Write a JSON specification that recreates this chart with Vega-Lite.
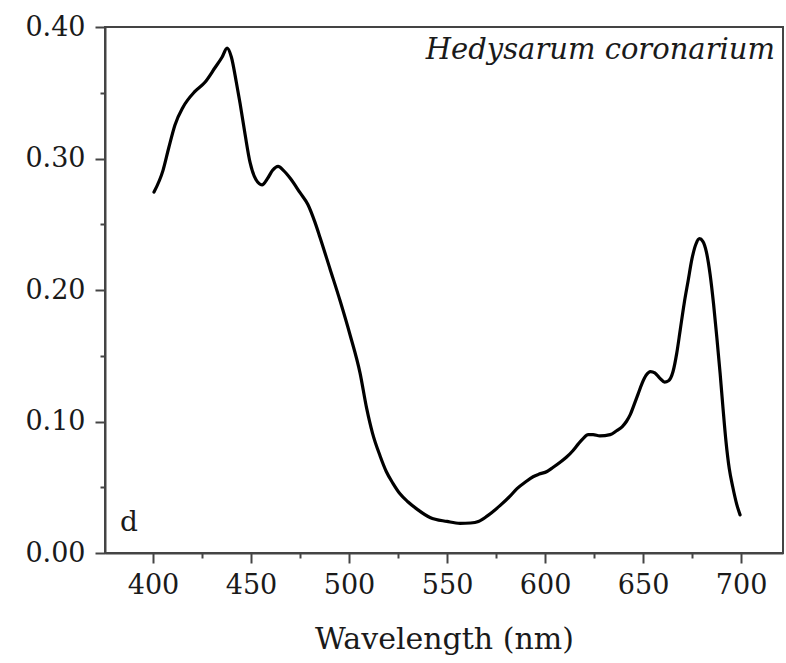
{
  "$schema": "https://vega.github.io/schema/vega-lite/v6.json",
  "width": 678,
  "height": 526,
  "autosize": {"type": "none"},
  "padding": {"left": 105, "top": 27, "right": 3, "bottom": 110},
  "background": "white",
  "config": {
    "font": "DejaVu Serif",
    "view": {"stroke": "#444", "strokeWidth": 2},
    "axis": {
      "grid": false,
      "domainColor": "#444",
      "domainWidth": 2,
      "tickColor": "#444",
      "tickWidth": 2,
      "labelFont": "DejaVu Serif",
      "labelFontSize": 27,
      "labelColor": "#1a1a1a",
      "titleFont": "DejaVu Serif",
      "titleFontSize": 30,
      "titleFontWeight": "normal",
      "titleColor": "#1a1a1a"
    }
  },
  "datasets": {
    "spectrum": [
      {"wl": 400.5, "v": 0.2745},
      {"wl": 405.1, "v": 0.291},
      {"wl": 408.0, "v": 0.308},
      {"wl": 411.2, "v": 0.3255},
      {"wl": 415.3, "v": 0.339},
      {"wl": 421.4, "v": 0.351},
      {"wl": 426.5, "v": 0.358},
      {"wl": 431.6, "v": 0.369},
      {"wl": 435.2, "v": 0.377},
      {"wl": 437.8, "v": 0.384},
      {"wl": 440.0, "v": 0.377},
      {"wl": 442.5, "v": 0.358},
      {"wl": 444.4, "v": 0.342},
      {"wl": 447.0, "v": 0.318},
      {"wl": 449.5, "v": 0.297},
      {"wl": 452.5, "v": 0.284},
      {"wl": 455.6, "v": 0.280},
      {"wl": 458.5, "v": 0.285},
      {"wl": 461.0, "v": 0.291},
      {"wl": 463.8, "v": 0.294},
      {"wl": 466.5, "v": 0.291},
      {"wl": 470.0, "v": 0.285},
      {"wl": 475.0, "v": 0.274},
      {"wl": 479.0, "v": 0.265},
      {"wl": 482.5, "v": 0.252},
      {"wl": 485.2, "v": 0.240},
      {"wl": 490.3, "v": 0.216},
      {"wl": 495.4, "v": 0.192},
      {"wl": 500.5, "v": 0.166},
      {"wl": 505.6, "v": 0.137},
      {"wl": 509.0, "v": 0.110},
      {"wl": 512.0, "v": 0.091},
      {"wl": 515.8, "v": 0.074},
      {"wl": 519.0, "v": 0.062},
      {"wl": 522.4, "v": 0.053},
      {"wl": 526.0, "v": 0.045},
      {"wl": 530.0, "v": 0.039},
      {"wl": 535.0, "v": 0.033},
      {"wl": 541.3, "v": 0.027},
      {"wl": 550.0, "v": 0.024},
      {"wl": 556.6, "v": 0.0225},
      {"wl": 562.0, "v": 0.0228},
      {"wl": 566.0, "v": 0.024},
      {"wl": 570.4, "v": 0.028},
      {"wl": 577.0, "v": 0.036},
      {"wl": 582.0, "v": 0.043},
      {"wl": 585.7, "v": 0.049},
      {"wl": 590.0, "v": 0.054},
      {"wl": 593.9, "v": 0.058},
      {"wl": 597.0, "v": 0.060},
      {"wl": 601.0, "v": 0.062},
      {"wl": 604.0, "v": 0.065},
      {"wl": 607.7, "v": 0.069},
      {"wl": 611.0, "v": 0.073},
      {"wl": 614.3, "v": 0.078},
      {"wl": 617.0, "v": 0.083},
      {"wl": 619.4, "v": 0.087},
      {"wl": 622.0, "v": 0.090},
      {"wl": 624.5, "v": 0.090},
      {"wl": 628.0, "v": 0.089},
      {"wl": 633.2, "v": 0.090},
      {"wl": 636.5, "v": 0.093},
      {"wl": 639.3, "v": 0.096},
      {"wl": 641.5, "v": 0.100},
      {"wl": 643.4, "v": 0.105},
      {"wl": 645.5, "v": 0.113},
      {"wl": 647.5, "v": 0.121},
      {"wl": 649.5, "v": 0.129},
      {"wl": 651.5, "v": 0.135},
      {"wl": 653.8, "v": 0.138},
      {"wl": 656.0, "v": 0.137},
      {"wl": 658.5, "v": 0.133},
      {"wl": 661.0, "v": 0.130},
      {"wl": 663.0, "v": 0.131},
      {"wl": 665.3, "v": 0.138},
      {"wl": 667.2, "v": 0.152},
      {"wl": 669.0, "v": 0.170},
      {"wl": 671.0, "v": 0.190},
      {"wl": 673.0, "v": 0.207},
      {"wl": 675.0, "v": 0.224},
      {"wl": 677.0, "v": 0.235},
      {"wl": 678.8, "v": 0.239},
      {"wl": 680.5, "v": 0.237},
      {"wl": 682.3, "v": 0.229},
      {"wl": 684.2, "v": 0.212},
      {"wl": 686.0, "v": 0.189},
      {"wl": 687.7, "v": 0.163},
      {"wl": 689.3, "v": 0.137},
      {"wl": 690.8, "v": 0.110},
      {"wl": 692.3, "v": 0.085},
      {"wl": 694.0, "v": 0.064},
      {"wl": 695.8, "v": 0.050},
      {"wl": 697.8, "v": 0.037},
      {"wl": 699.5, "v": 0.029}
    ],
    "labels": [
      {"wl": 717.3, "v": 0.376, "t": "Hedysarum coronarium", "kind": "species"},
      {"wl": 383.2, "v": 0.0167, "t": "d", "kind": "panel"}
    ]
  },
  "layer": [
    {
      "data": {"name": "spectrum"},
      "mark": {"type": "line", "color": "black", "strokeWidth": 3.2, "strokeJoin": "round", "strokeCap": "round", "interpolate": "monotone"},
      "encoding": {
        "x": {
          "field": "wl", "type": "quantitative",
          "scale": {"domain": [375.5, 721.4], "nice": false, "zero": false},
          "axis": {
            "title": "Wavelength (nm)",
            "titlePadding": 26,
            "values": [400, 425, 450, 475, 500, 525, 550, 575, 600, 625, 650, 675, 700],
            "labelExpr": "datum.value % 50 === 0 ? datum.label : ''",
            "tickSize": {"condition": {"test": "datum.value % 50 !== 0", "value": 5}, "value": 10},
            "labelPadding": 9,
            "labelFlush": false
          }
        },
        "y": {
          "field": "v", "type": "quantitative",
          "scale": {"domain": [0, 0.4], "nice": false},
          "axis": {
            "title": null,
            "format": ".2f",
            "values": [0, 0.05, 0.1, 0.15, 0.2, 0.25, 0.3, 0.35, 0.4],
            "labelExpr": "round(datum.value * 100) % 10 === 0 ? datum.label : ''",
            "tickSize": {"condition": {"test": "round(datum.value * 100) % 10 !== 0", "value": 5}, "value": 10},
            "labelPadding": 10,
            "labelFlush": false
          }
        }
      }
    },
    {
      "data": {"name": "labels"},
      "transform": [{"filter": "datum.kind === 'species'"}],
      "mark": {"type": "text", "align": "right", "baseline": "alphabetic", "font": "DejaVu Serif", "fontStyle": "italic", "fontSize": 29, "color": "#1a1a1a"},
      "encoding": {
        "x": {"field": "wl", "type": "quantitative"},
        "y": {"field": "v", "type": "quantitative"},
        "text": {"field": "t"}
      }
    },
    {
      "data": {"name": "labels"},
      "transform": [{"filter": "datum.kind === 'panel'"}],
      "mark": {"type": "text", "align": "left", "baseline": "alphabetic", "font": "DejaVu Serif", "fontSize": 28, "color": "#1a1a1a"},
      "encoding": {
        "x": {"field": "wl", "type": "quantitative"},
        "y": {"field": "v", "type": "quantitative"},
        "text": {"field": "t"}
      }
    }
  ]
}
